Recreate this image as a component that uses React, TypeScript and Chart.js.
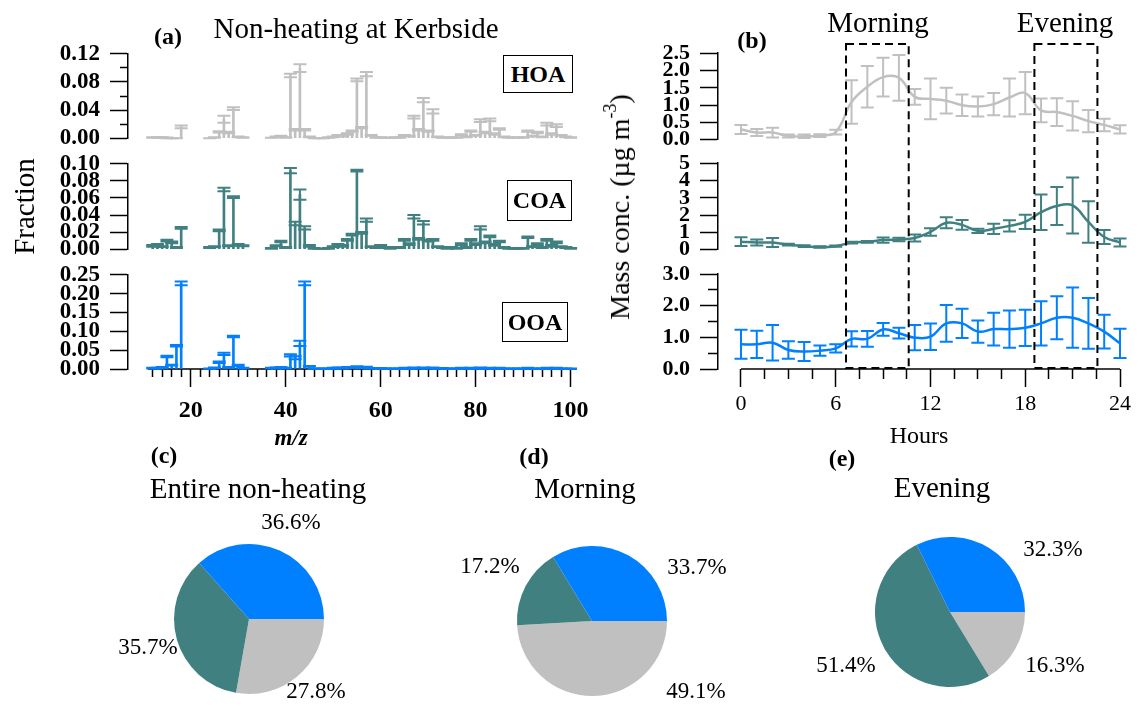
import React, { useEffect, useRef } from 'react';
import { Chart, registerables } from 'chart.js';

Chart.register(...registerables);

const SERIF = '"Liberation Serif", "Times New Roman", "DejaVu Serif", serif';
Chart.defaults.font.family = SERIF;
Chart.defaults.color = '#000';

const GRAY = '#C0C0C0';
const TEAL = '#418080';
const BLUE = '#0080FF';

// ---------------- data: mass spectra (panel a) ----------------
const mzValues = [
  12, 13, 14, 15, 16, 17, 18,
  24, 25, 26, 27, 28, 29, 30, 31,
  37, 38, 39, 40, 41, 42, 43, 44, 45, 46,
  47, 48, 49, 50, 51, 52, 53, 54, 55, 56,
  57, 58, 59, 60, 61, 62, 63, 64, 65, 66,
  67, 68, 69, 70, 71, 72, 73, 74, 75, 76,
  77, 78, 79, 80, 81, 82, 83, 84, 85, 86,
  87, 88, 89, 90, 91, 92, 93, 94, 95, 96,
  97, 98, 99, 100,
];

const hoaSpectrum = [
  0.001, 0.001, 0.001, 0.0005, 0, 0, 0.016,
  0, 0.001, 0.009, 0.027, 0.008, 0.042, 0.002, 0.001,
  0.0005, 0.002, 0.003, 0.001, 0.089, 0.012, 0.0995, 0.012, 0.002, 0,
  0, 0, 0.001, 0.002, 0.004, 0.003, 0.006, 0.010, 0.083, 0.015,
  0.091, 0.004, 0.001, 0.001, 0.0005, 0.0005, 0.001, 0.001, 0.004, 0.003,
  0.030, 0.012, 0.054, 0.010, 0.038, 0.002, 0.001, 0.0005, 0.001, 0.001,
  0.005, 0.002, 0.010, 0.004, 0.025, 0.008, 0.026, 0.006, 0.013, 0.002,
  0.001, 0.0005, 0.001, 0.001, 0.010, 0.003, 0.008, 0.002, 0.020, 0.006,
  0.018, 0.004, 0.002, 0.001,
];
const hoaSpectrumErr = [
  0.0005, 0.0005, 0.0005, 0.0005, 0, 0, 0.002,
  0, 0.0005, 0.001, 0.005, 0.001, 0.002, 0.0005, 0.0005,
  0, 0.0005, 0.0005, 0.0005, 0.0025, 0.001, 0.0055, 0.001, 0.0005, 0,
  0, 0, 0.0005, 0.0005, 0.0005, 0.0005, 0.001, 0.001, 0.002, 0.001,
  0.003, 0.0005, 0.0005, 0.0005, 0, 0, 0.0005, 0.0005, 0.0005, 0.0005,
  0.002, 0.001, 0.003, 0.001, 0.003, 0.0005, 0.0005, 0, 0.0005, 0.0005,
  0.0005, 0.0005, 0.001, 0.0005, 0.002, 0.001, 0.002, 0.001, 0.001, 0.0005,
  0.0005, 0, 0.0005, 0.0005, 0.001, 0.0005, 0.001, 0.0005, 0.002, 0.001,
  0.002, 0.0005, 0.0005, 0.0005,
];

const coaSpectrum = [
  0.004, 0.005, 0.003, 0.010, 0.008, 0.002, 0.025,
  0.002, 0.003, 0.022, 0.070, 0.004, 0.061, 0.005, 0.004,
  0.001, 0.004, 0.009, 0.002, 0.092, 0.030, 0.064, 0.025, 0.004, 0.001,
  0.0005, 0.0005, 0.001, 0.003, 0.005, 0.004, 0.011, 0.017, 0.092, 0.019,
  0.034, 0.003, 0.002, 0.004, 0.002, 0.001, 0.002, 0.002, 0.011, 0.006,
  0.038, 0.012, 0.031, 0.010, 0.011, 0.003, 0.002, 0.001, 0.002, 0.001,
  0.006, 0.002, 0.011, 0.006, 0.025, 0.008, 0.015, 0.005, 0.009, 0.002,
  0.001, 0.001, 0.001, 0.001, 0.014, 0.003, 0.006, 0.002, 0.011, 0.004,
  0.008, 0.003, 0.002, 0.001,
];
const coaSpectrumErr = [
  0.001, 0.001, 0.0005, 0.001, 0.001, 0.0005, 0.001,
  0.0005, 0.0005, 0.001, 0.002, 0.0005, 0.001, 0.001, 0.0005,
  0.0005, 0.0005, 0.001, 0.0005, 0.003, 0.002, 0.006, 0.002, 0.001, 0.0005,
  0, 0, 0.0005, 0.0005, 0.001, 0.001, 0.001, 0.001, 0.001, 0.001,
  0.002, 0.0005, 0.0005, 0.001, 0.0005, 0.0005, 0.0005, 0.0005, 0.001, 0.001,
  0.002, 0.001, 0.002, 0.001, 0.001, 0.0005, 0.0005, 0.0005, 0.0005, 0.0005,
  0.001, 0.0005, 0.001, 0.001, 0.002, 0.001, 0.001, 0.001, 0.001, 0.0005,
  0.0005, 0.0005, 0.0005, 0.0005, 0.001, 0.0005, 0.001, 0.0005, 0.001, 0.001,
  0.001, 0.0005, 0.0005, 0.0005,
];

const ooaSpectrum = [
  0.002, 0.002, 0.004, 0.033, 0.010, 0.062, 0.227,
  0.001, 0.003, 0.018, 0.040, 0.004, 0.086, 0.009, 0.002,
  0.002, 0.003, 0.004, 0.002, 0.036, 0.030, 0.068, 0.227, 0.007, 0.001,
  0.001, 0.001, 0.001, 0.002, 0.003, 0.002, 0.004, 0.004, 0.006, 0.003,
  0.005, 0.002, 0.002, 0.002, 0.001, 0.001, 0.001, 0.001, 0.002, 0.001,
  0.003, 0.002, 0.003, 0.002, 0.003, 0.001, 0.002, 0.001, 0.001, 0.001,
  0.002, 0.001, 0.002, 0.001, 0.003, 0.001, 0.002, 0.001, 0.002, 0.001,
  0.001, 0.001, 0.001, 0.001, 0.002, 0.001, 0.001, 0.001, 0.002, 0.001,
  0.002, 0.001, 0.001, 0.001,
];
const ooaSpectrumErr = [
  0.001, 0.001, 0.001, 0.002, 0.001, 0.002, 0.005,
  0.0005, 0.001, 0.002, 0.003, 0.001, 0.002, 0.002, 0.001,
  0.001, 0.001, 0.001, 0.001, 0.003, 0.004, 0.007, 0.005, 0.001, 0.0005,
  0.0005, 0.0005, 0.0005, 0.001, 0.001, 0.001, 0.001, 0.001, 0.001, 0.001,
  0.001, 0.0005, 0.0005, 0.0005, 0.0005, 0.0005, 0.0005, 0.0005, 0.001, 0.0005,
  0.001, 0.0005, 0.001, 0.0005, 0.001, 0.0005, 0.0005, 0.0005, 0.0005, 0.0005,
  0.001, 0.0005, 0.001, 0.0005, 0.001, 0.0005, 0.001, 0.0005, 0.001, 0.0005,
  0.0005, 0.0005, 0.0005, 0.0005, 0.001, 0.0005, 0.0005, 0.0005, 0.001, 0.0005,
  0.001, 0.0005, 0.0005, 0.0005,
];

// ---------------- data: diurnal cycles (panel b) ----------------
const hours = [0, 1, 2, 3, 4, 5, 6, 7, 8, 9, 10, 11, 12, 13, 14, 15, 16, 17, 18, 19, 20, 21, 22, 23, 24];
const hoaDiurnal = [0.30, 0.21, 0.21, 0.11, 0.10, 0.12, 0.22, 1.09, 1.53, 1.81, 1.79, 1.24, 1.18, 1.13, 1.00, 0.96, 1.03, 1.22, 1.35, 0.85, 0.80, 0.69, 0.54, 0.43, 0.30];
const hoaDiurnalErr = [0.13, 0.10, 0.14, 0.04, 0.05, 0.04, 0.07, 0.63, 0.60, 0.56, 0.66, 0.23, 0.59, 0.37, 0.31, 0.29, 0.32, 0.55, 0.61, 0.34, 0.40, 0.42, 0.32, 0.18, 0.12];
const coaDiurnal = [0.47, 0.42, 0.42, 0.30, 0.21, 0.16, 0.21, 0.42, 0.46, 0.56, 0.60, 0.68, 1.03, 1.56, 1.44, 1.09, 1.21, 1.38, 1.61, 2.17, 2.53, 2.56, 1.61, 0.74, 0.42];
const coaDiurnalErr = [0.25, 0.17, 0.26, 0.05, 0.05, 0.04, 0.04, 0.05, 0.05, 0.15, 0.10, 0.20, 0.22, 0.32, 0.28, 0.12, 0.30, 0.33, 0.41, 1.03, 1.10, 1.62, 1.20, 0.40, 0.23];
const ooaDiurnal = [0.78, 0.78, 0.83, 0.60, 0.55, 0.58, 0.65, 0.95, 0.95, 1.25, 1.13, 0.99, 1.02, 1.44, 1.44, 1.18, 1.26, 1.26, 1.30, 1.44, 1.62, 1.62, 1.44, 1.18, 0.81];
const ooaDiurnalErr = [0.46, 0.43, 0.56, 0.28, 0.30, 0.16, 0.13, 0.24, 0.25, 0.20, 0.17, 0.40, 0.42, 0.58, 0.46, 0.35, 0.52, 0.59, 0.57, 0.70, 0.68, 0.95, 0.80, 0.53, 0.46];

const morningWindow = [6.65, 10.62];
const eveningWindow = [18.58, 22.57];

// ---------------- data: pies (panels c, d, e) ----------------
const factorNames = ['HOA', 'COA', 'OOA'];
const entireShare = [27.8, 35.7, 36.6];
const morningShare = [49.1, 17.2, 33.7];
const eveningShare = [16.3, 51.4, 32.3];

// ---------------- ticks ----------------
const mzTickValues = Array.from({ length: 45 }, (_, i) => 12 + 2 * i);
const mzTickLabels = [20, 40, 60, 80, 100];
const hourTickValues = Array.from({ length: 17 }, (_, i) => 1.5 * i);
const hourTickLabels = [0, 6, 12, 18, 24];

const hoaFracTicks = [0, 0.02, 0.04, 0.06, 0.08, 0.10, 0.12];
const hoaFracLabels = [0, 0.04, 0.08, 0.12];
const coaFracTicks = [0, 0.02, 0.04, 0.06, 0.08, 0.10];
const ooaFracTicks = [0, 0.05, 0.10, 0.15, 0.20, 0.25];
const hoaConcTicks = [0, 0.5, 1.0, 1.5, 2.0, 2.5];
const coaConcTicks = [0, 1, 2, 3, 4, 5];
const ooaConcTicks = [0, 0.5, 1.0, 1.5, 2.0, 2.5, 3.0];
const ooaConcLabels = [0, 1, 2, 3];

const has = (list: number[], v: any) => list.some((x) => Math.abs(x - Number(v)) < 1e-9);

// ---------------- plugins ----------------
const errorBarPlugin = {
  id: 'errorBars',
  afterDatasetsDraw(chart: any) {
    const { ctx } = chart;
    chart.data.datasets.forEach((ds: any, i: number) => {
      const errs = ds.errorBars;
      if (!errs) return;
      const meta = chart.getDatasetMeta(i);
      const xs = chart.scales[meta.xAxisID];
      const ys = chart.scales[meta.yAxisID];
      const hw = (ds.capWidth || 12) / 2;
      ctx.save();
      ctx.strokeStyle = ds.errorColor;
      ctx.lineWidth = ds.errorLineWidth || 2;
      ds.data.forEach((pt: any, j: number) => {
        if (!pt || pt.y == null) return;
        const e = errs[j] || 0;
        const x = xs.getPixelForValue(pt.x);
        const yHi = ys.getPixelForValue(pt.y + e);
        const yLo = ys.getPixelForValue(Math.max(0, pt.y - e));
        ctx.beginPath();
        ctx.moveTo(x, yLo);
        ctx.lineTo(x, yHi);
        ctx.moveTo(x - hw, yHi);
        ctx.lineTo(x + hw, yHi);
        ctx.moveTo(x - hw, yLo);
        ctx.lineTo(x + hw, yLo);
        ctx.stroke();
      });
      ctx.restore();
    });
  },
};

const axisLinePlugin = {
  id: 'axisLine',
  beforeDatasetsDraw(chart: any, _a: any, opts: any) {
    if (!opts || opts.from == null) return;
    const { ctx } = chart;
    const xs = chart.scales.x;
    const y = chart.chartArea.bottom;
    ctx.save();
    ctx.strokeStyle = '#000';
    ctx.lineWidth = 1.5;
    ctx.beginPath();
    ctx.moveTo(xs.getPixelForValue(opts.from), y);
    ctx.lineTo(xs.getPixelForValue(opts.to), y);
    ctx.stroke();
    ctx.restore();
  },
};

const windowBoxPlugin = {
  id: 'windowBoxes',
  afterDraw(chart: any, _a: any, opts: any) {
    if (!opts || !opts.windows) return;
    const { ctx } = chart;
    const xs = chart.scales.x;
    const top = opts.top;
    const bottom = chart.chartArea.bottom - 1;
    ctx.save();
    ctx.strokeStyle = '#000';
    ctx.lineWidth = 2;
    ctx.setLineDash([8, 5]);
    opts.windows.forEach((w: number[]) => {
      const x0 = xs.getPixelForValue(w[0]);
      const x1 = xs.getPixelForValue(w[1]);
      ctx.strokeRect(x0, top, x1 - x0, bottom - top);
    });
    ctx.restore();
  },
};

const pieLabelPlugin = {
  id: 'pieLabels',
  afterDatasetsDraw(chart: any, _a: any, opts: any) {
    if (!opts || !opts.offsets) return;
    const { ctx } = chart;
    const meta = chart.getDatasetMeta(0);
    const values = chart.data.datasets[0].data;
    ctx.save();
    ctx.fillStyle = '#000';
    ctx.font = `23px ${SERIF}`;
    ctx.textAlign = 'center';
    ctx.textBaseline = 'middle';
    meta.data.forEach((arc: any, i: number) => {
      const off = opts.offsets[i];
      ctx.fillText(`${Number(values[i]).toFixed(1)}%`, arc.x + off[0], arc.y + off[1]);
    });
    ctx.restore();
  },
};

// ---------------- scale builders ----------------
function yScale(max: number, ticks: number[], labels: number[], dec: number, minorLen: number, size: number, title?: any) {
  return {
    type: 'linear',
    position: 'left',
    min: 0,
    max,
    afterBuildTicks: (s: any) => {
      s.ticks = ticks.map((v) => ({ value: v }));
    },
    afterFit: (s: any) => {
      s.width = 128;
    },
    border: { display: true, color: '#000', width: 1.5 },
    grid: {
      drawOnChartArea: false,
      drawTicks: true,
      tickLength: 18,
      tickWidth: 1.5,
      tickColor: '#000',
      tickBorderDash: (c: any) => (c.tick && !has(labels, c.tick.value) ? [0, 18 - minorLen, minorLen, 100] : []),
    },
    ticks: {
      autoSkip: false,
      padding: 10,
      color: '#000',
      font: { size, weight: 'bold', family: SERIF },
      callback: (v: any) => (has(labels, v) ? Number(v).toFixed(dec) : ''),
    },
    title: title
      ? { display: true, text: title.text, color: '#000', font: { size: title.size, family: SERIF }, padding: { top: title.pt, bottom: 0 } }
      : { display: false },
  };
}

function xScale(opts: any) {
  return {
    type: 'linear',
    min: opts.min,
    max: opts.max,
    display: opts.show,
    offset: false,
    afterBuildTicks: (s: any) => {
      s.ticks = opts.ticks.map((v: number) => ({ value: v }));
    },
    afterFit: (s: any) => {
      s.height = opts.show ? opts.height : 0;
    },
    border: { display: false },
    grid: {
      offset: false,
      drawOnChartArea: false,
      tickLength: 18,
      tickWidth: 1.5,
      tickColor: '#000',
      tickBorderDash: (c: any) => (c.tick && !has(opts.labels, c.tick.value) ? [opts.minorLen, 100] : []),
    },
    ticks: {
      autoSkip: false,
      maxRotation: 0,
      padding: opts.pad,
      color: '#000',
      font: { size: opts.size, weight: opts.bold ? 'bold' : 'normal', family: SERIF },
      callback: (v: any) => (has(opts.labels, v) ? String(Number(v)) : ''),
    },
    title: opts.title
      ? { display: true, text: opts.title, color: '#000', font: { size: 24, family: SERIF }, padding: { top: 0, bottom: 0 } }
      : { display: false },
  };
}

function spectrumConfig(values: number[], errors: number[], color: string, y: any, showX: boolean) {
  return {
    type: 'bar',
    data: {
      datasets: [
        {
          data: mzValues.map((m, i) => ({ x: m, y: values[i] })),
          backgroundColor: color,
          borderWidth: 0,
          barThickness: 2,
          errorBars: errors,
          errorColor: color,
          errorLineWidth: 2,
          capWidth: 13,
        },
      ],
    },
    options: {
      animation: false,
      responsive: false,
      events: [],
      layout: { padding: { left: 0, right: 23, top: 23, bottom: showX ? 0 : 15 } },
      plugins: {
        legend: { display: false },
        tooltip: { enabled: false },
        axisLine: showX ? { from: 11, to: 101.3 } : false,
      },
      scales: {
        x: xScale({ min: 6.8, max: 101.35, show: showX, ticks: mzTickValues, labels: mzTickLabels, minorLen: 8, pad: 9, size: 24, bold: true, height: 90 }),
        y,
      },
    },
    plugins: [errorBarPlugin, axisLinePlugin],
  };
}

function diurnalConfig(values: number[], errors: number[], color: string, y: any, showX: boolean, padTop: number) {
  return {
    type: 'line',
    data: {
      datasets: [
        {
          data: hours.map((h, i) => ({ x: h, y: values[i] })),
          borderColor: color,
          borderWidth: 2.5,
          pointRadius: 0,
          tension: 0.4,
          fill: false,
          errorBars: errors,
          errorColor: color,
          errorLineWidth: 2,
          capWidth: 13,
        },
      ],
    },
    options: {
      animation: false,
      responsive: false,
      events: [],
      layout: { padding: { left: 0, right: 23, top: padTop, bottom: showX ? 0 : 15 } },
      plugins: {
        legend: { display: false },
        tooltip: { enabled: false },
        axisLine: showX ? { from: 0, to: 24 } : false,
        windowBoxes: showX ? { windows: [morningWindow, eveningWindow], top: 44 } : false,
      },
      scales: {
        x: xScale({ min: -1.456, max: 24, show: showX, ticks: hourTickValues, labels: hourTickLabels, minorLen: 10, pad: 4, size: 22, bold: false, height: 82, title: 'Hours' }),
        y,
      },
    },
    plugins: [errorBarPlugin, axisLinePlugin, windowBoxPlugin],
  };
}

function pieConfig(shares: number[], padding: any, offsets: number[][]) {
  return {
    type: 'pie',
    data: {
      labels: factorNames,
      datasets: [{ data: shares, backgroundColor: [GRAY, TEAL, BLUE], borderWidth: 0, hoverOffset: 0 }],
    },
    options: {
      animation: false,
      responsive: false,
      events: [],
      rotation: 90,
      layout: { padding },
      plugins: {
        legend: { display: false },
        tooltip: { enabled: false },
        pieLabels: { offsets },
      },
    },
    plugins: [pieLabelPlugin],
  };
}

// ---------------- canvases ----------------
const CANVASES: { x: number; y: number; w: number; h: number; cfg: () => any }[] = [
  // panel (a)
  {
    x: 0, y: 30, w: 600, h: 132,
    cfg: () => spectrumConfig(hoaSpectrum, hoaSpectrumErr, GRAY, yScale(0.12, hoaFracTicks, hoaFracLabels, 2, 8, 23), false),
  },
  {
    x: 0, y: 140, w: 600, h: 133,
    cfg: () => spectrumConfig(coaSpectrum, coaSpectrumErr, TEAL, yScale(0.10, coaFracTicks, coaFracTicks, 2, 8, 23, { text: 'Fraction', size: 29, pt: 9 }), false),
  },
  {
    x: 0, y: 251, w: 600, h: 208,
    cfg: () => spectrumConfig(ooaSpectrum, ooaSpectrumErr, BLUE, yScale(0.25, ooaFracTicks, ooaFracTicks, 2, 8, 23), true),
  },
  // panel (b)
  {
    x: 590, y: 30, w: 553, h: 133,
    cfg: () => diurnalConfig(hoaDiurnal, hoaDiurnalErr, GRAY, yScale(2.5, hoaConcTicks, hoaConcTicks, 1, 10, 22), false, 23),
  },
  {
    x: 590, y: 140, w: 553, h: 133,
    cfg: () => diurnalConfig(coaDiurnal, coaDiurnalErr, TEAL, yScale(5, coaConcTicks, coaConcTicks, 0, 10, 22), false, 23),
  },
  {
    x: 590, y: 0, w: 553, h: 451,
    cfg: () => diurnalConfig(ooaDiurnal, ooaDiurnalErr, BLUE, yScale(3, ooaConcTicks, ooaConcLabels, 1, 10, 22), true, 274),
  },
  // pies
  {
    x: 100, y: 480, w: 300, h: 229,
    cfg: () => pieConfig(entireShare, { left: 74, right: 76, top: 64, bottom: 15 }, [[67, 73], [-101, 29], [42, -96]]),
  },
  {
    x: 440, y: 480, w: 340, h: 229,
    cfg: () => pieConfig(morningShare, { left: 77, right: 113, top: 66, bottom: 13 }, [[104, 71], [-102, -54], [105, -53]]),
  },
  {
    x: 780, y: 480, w: 363, h: 229,
    cfg: () => pieConfig(eveningShare, { left: 95, right: 118, top: 57, bottom: 22 }, [[105, 54], [-104, 54], [103, -62]]),
  },
];

const TEXTS = [
  { t: '(a)', x: 168, y: 36, s: 24, b: true },
  { t: 'Non-heating at Kerbside', x: 356, y: 28, s: 29 },
  { t: '(b)', x: 752, y: 40, s: 24, b: true },
  { t: 'Morning', x: 878, y: 22, s: 29 },
  { t: 'Evening', x: 1065, y: 22, s: 29 },
  { t: 'm/z', x: 291, y: 437, s: 23, b: true, i: true },
  { t: '(c)', x: 164, y: 455, s: 24, b: true },
  { t: 'Entire non-heating', x: 258, y: 488, s: 29 },
  { t: '(d)', x: 534, y: 456, s: 24, b: true },
  { t: 'Morning', x: 585, y: 488, s: 29 },
  { t: '(e)', x: 842, y: 458, s: 24, b: true },
  { t: 'Evening', x: 942, y: 487, s: 29 },
];

const BOXES = [
  { t: 'HOA', x: 503, y: 55, w: 70, h: 38 },
  { t: 'COA', x: 507, y: 180, w: 65, h: 41 },
  { t: 'OOA', x: 502, y: 302, w: 66, h: 40 },
];

export default function App() {
  const refs = useRef<(HTMLCanvasElement | null)[]>([]);

  useEffect(() => {
    const charts = CANVASES.map((c, i) => new Chart(refs.current[i] as HTMLCanvasElement, c.cfg()));
    return () => {
      charts.forEach((ch) => ch.destroy());
    };
  }, []);

  return (
    <div style={{ position: 'absolute', left: 0, top: 0, width: 1143, height: 709, background: '#fff', overflow: 'hidden', fontFamily: SERIF, color: '#000' }}>
      {CANVASES.map((c, i) => (
        <canvas
          key={i}
          ref={(el) => {
            refs.current[i] = el;
          }}
          width={c.w}
          height={c.h}
          style={{ position: 'absolute', left: c.x, top: c.y, width: c.w, height: c.h }}
        />
      ))}
      {TEXTS.map((tx, i) => (
        <div
          key={`t${i}`}
          style={{
            position: 'absolute',
            left: tx.x,
            top: tx.y - tx.s / 2,
            transform: 'translateX(-50%)',
            fontSize: tx.s,
            lineHeight: `${tx.s}px`,
            fontWeight: tx.b ? 'bold' : 'normal',
            fontStyle: tx.i ? 'italic' : 'normal',
            whiteSpace: 'nowrap',
          }}
        >
          {tx.t}
        </div>
      ))}
      <div
        style={{
          position: 'absolute',
          left: 620,
          top: 207,
          transform: 'translate(-50%, -50%) rotate(-90deg)',
          fontSize: 28,
          lineHeight: '28px',
          whiteSpace: 'nowrap',
        }}
      >
        Mass conc. (µg m<sup style={{ fontSize: 18, verticalAlign: '0.7em', lineHeight: 0 }}>-3</sup>)
      </div>
      {BOXES.map((bx, i) => (
        <div
          key={`b${i}`}
          style={{
            position: 'absolute',
            left: bx.x,
            top: bx.y,
            width: bx.w,
            height: bx.h,
            boxSizing: 'border-box',
            border: '1.5px solid #000',
            display: 'flex',
            alignItems: 'center',
            justifyContent: 'center',
            fontSize: 24,
            fontWeight: 'bold',
            background: '#fff',
          }}
        >
          {bx.t}
        </div>
      ))}
    </div>
  );
}
